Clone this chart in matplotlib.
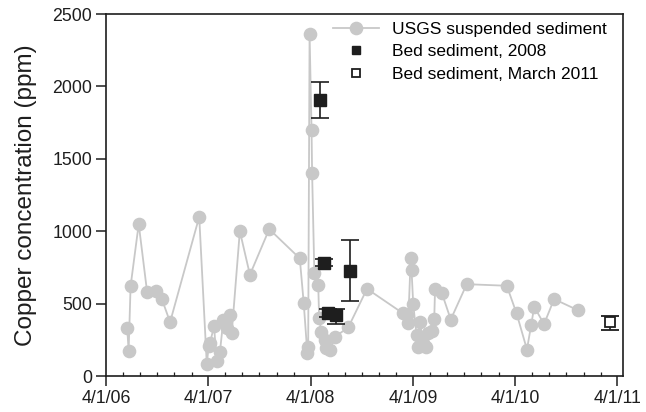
import matplotlib
matplotlib.use("Agg")
import matplotlib.pyplot as plt
import matplotlib.dates as mdates
from matplotlib.lines import Line2D
import pandas as pd

plt.rcParams['font.family'] = ['Liberation Sans', 'DejaVu Sans']

# USGS suspended sediment samples
usgs_dates = [
    '2006-06-16', '2006-06-21', '2006-06-28', '2006-07-27', '2006-08-26',
    '2006-09-27', '2006-10-18', '2006-11-16', '2007-02-28', '2007-03-27',
    '2007-04-03', '2007-04-07', '2007-04-22', '2007-05-01', '2007-05-13',
    '2007-05-25', '2007-06-06', '2007-06-18', '2007-06-24', '2007-07-23',
    '2007-08-28', '2007-11-05', '2008-02-22', '2008-03-07', '2008-03-20',
    '2008-03-23', '2008-03-28', '2008-04-04', '2008-04-06', '2008-04-14',
    '2008-04-28', '2008-05-01', '2008-05-09', '2008-05-21', '2008-05-27',
    '2008-06-08', '2008-06-26', '2008-08-13', '2008-10-19', '2009-02-25',
    '2009-03-10', '2009-03-15', '2009-03-24', '2009-03-27', '2009-04-02',
    '2009-04-14', '2009-04-20', '2009-04-26', '2009-05-08', '2009-05-17',
    '2009-05-26', '2009-06-07', '2009-06-16', '2009-06-19', '2009-07-13',
    '2009-08-14', '2009-10-10', '2010-03-02', '2010-04-06', '2010-05-13',
    '2010-05-28', '2010-06-08', '2010-07-13', '2010-08-18', '2010-11-10',
]
usgs_cu = [
    331, 175, 622, 1050, 580,
    585, 530, 373, 1100, 83,
    209, 226, 345, 106, 168,
    387, 329, 421, 295, 1001,
    700, 1015, 813, 506, 157,
    203, 2362, 1699, 1404, 711,
    627, 404, 306, 249, 191,
    180, 271, 336, 603, 433,
    423, 364, 813, 733, 495,
    283, 202, 375, 226, 203,
    295, 313, 394, 605, 575,
    391, 635, 624, 433, 184,
    352, 479, 359, 532, 456,
]

# bed sediment, 2008 (mean with low/high range)
bed08_dates = ['2008-05-03', '2008-05-17', '2008-06-02', '2008-07-01', '2008-08-18']
bed08_cu = [1906, 783, 437, 421, 727]
bed08_lo = [1784, 760, 407, 359, 518]
bed08_hi = [2028, 807, 467, 467, 937]

# bed sediment, March 2011
bed11_dates = ['2011-03-05']
bed11_cu = [375]
bed11_lo = [318]
bed11_hi = [416]

usgs_x = pd.to_datetime(usgs_dates)
b08_x = pd.to_datetime(bed08_dates)
b11_x = pd.to_datetime(bed11_dates)

gray = '#c8c8c8'
ink = '#1e1e1e'

fig = plt.figure(figsize=(6.46, 4.12), dpi=100)
ax = fig.add_axes([0.164, 0.087, 0.8, 0.879])

ax.plot(usgs_x, usgs_cu, '-o', color=gray, lw=1.3, ms=8.8, zorder=2)

err08 = [[m - l for m, l in zip(bed08_cu, bed08_lo)],
         [h - m for m, h in zip(bed08_cu, bed08_hi)]]
ax.errorbar(b08_x, bed08_cu, yerr=err08, fmt='s', color=ink, ms=8,
            ecolor=ink, elinewidth=1.2, capsize=6.5, capthick=1.2, zorder=3)

err11 = [[m - l for m, l in zip(bed11_cu, bed11_lo)],
         [h - m for m, h in zip(bed11_cu, bed11_hi)]]
ax.errorbar(b11_x, bed11_cu, yerr=err11, fmt='s', mfc='white', mec=ink, mew=1.3,
            ms=7, ecolor=ink, elinewidth=1.2, capsize=6.5, capthick=1.2, zorder=3)

ax.set_xlim(pd.Timestamp('2006-04-01'), pd.Timestamp('2011-04-20'))
ax.set_ylim(0, 2500)
ax.set_yticks([0, 500, 1000, 1500, 2000, 2500])
ax.xaxis.set_major_locator(mdates.MonthLocator(bymonth=4, bymonthday=1))
ax.xaxis.set_major_formatter(mdates.DateFormatter('%-m/%-d/%y'))
ax.xaxis.set_minor_locator(mdates.MonthLocator(bymonth=[2, 6, 8, 10, 12]))

ax.tick_params(axis='both', which='major', direction='out', length=7, width=1.1,
               color=ink, labelsize=12.8, labelcolor=ink, pad=3)
ax.tick_params(axis='x', which='minor', direction='in', length=3, width=0.9, color=ink)
for s in ax.spines.values():
    s.set_linewidth(1.2)
    s.set_color(ink)

ax.set_ylabel('Copper concentration (ppm)', fontsize=17.5, color=ink, labelpad=11)

handles = [
    Line2D([], [], color=gray, lw=1.3, marker='o', ms=8.8),
    Line2D([], [], ls='none', marker='s', color=ink, ms=6),
    Line2D([], [], ls='none', marker='s', mfc='white', mec=ink, mew=1.3, ms=6),
]
labels = ['USGS suspended sediment', 'Bed sediment, 2008', 'Bed sediment, March 2011']
ax.legend(handles, labels, loc='upper left', bbox_to_anchor=(0.425, 1.0), frameon=False,
          fontsize=12.5, handlelength=2.6, handletextpad=0.8, labelspacing=0.42,
          borderpad=0.45, borderaxespad=0)

fig.savefig('out.png', dpi=100)
